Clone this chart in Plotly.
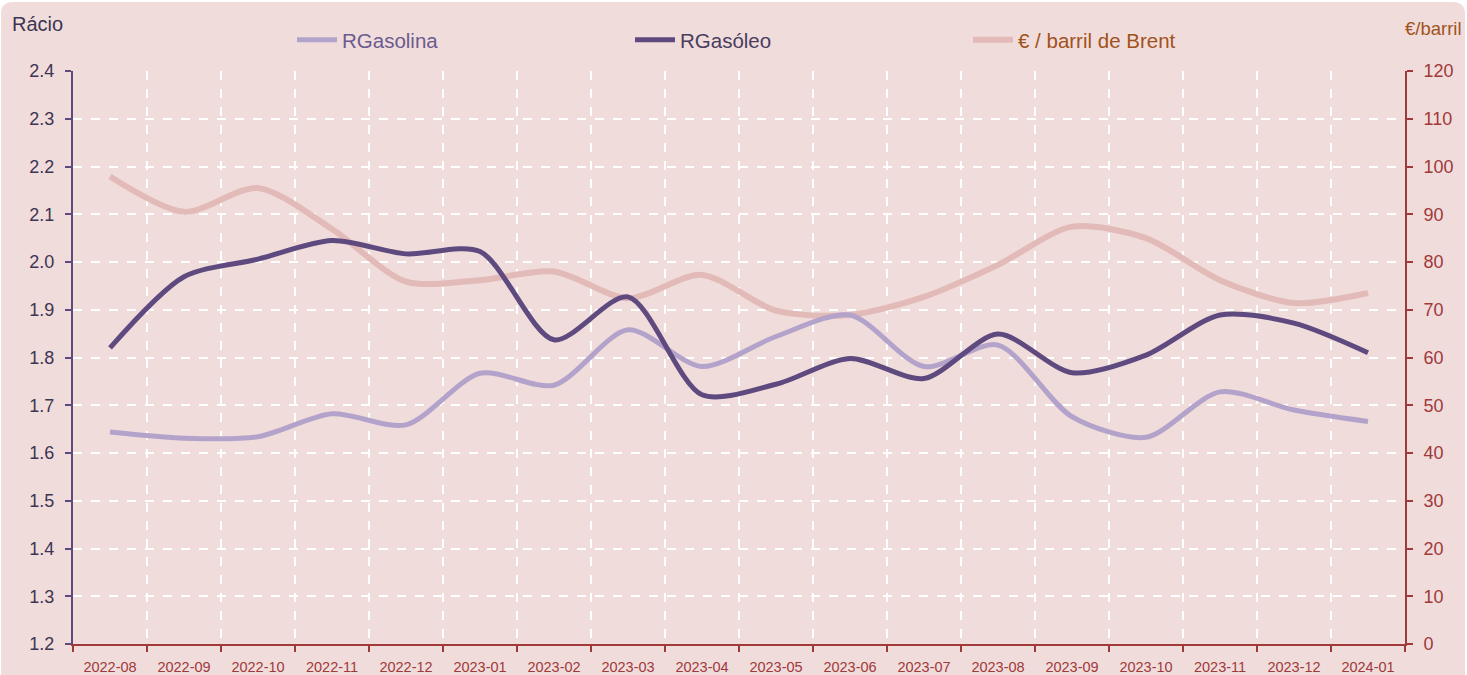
import plotly.graph_objects as go

months = ["2022-08", "2022-09", "2022-10", "2022-11", "2022-12", "2023-01",
          "2023-02", "2023-03", "2023-04", "2023-05", "2023-06", "2023-07",
          "2023-08", "2023-09", "2023-10", "2023-11", "2023-12", "2024-01"]
r_gasolina = [1.644, 1.631, 1.634, 1.682, 1.659, 1.767, 1.742, 1.858, 1.781,
              1.844, 1.889, 1.781, 1.826, 1.676, 1.633, 1.728, 1.690, 1.666]
r_gasoleo = [1.820, 1.969, 2.006, 2.045, 2.017, 2.022, 1.837, 1.927, 1.722,
             1.744, 1.798, 1.756, 1.849, 1.768, 1.805, 1.889, 1.872, 1.810]
brent = [97.9, 90.5, 95.5, 86.9, 75.9, 76.2, 78.0, 72.4, 77.3,
         69.8, 68.9, 72.7, 79.4, 87.4, 85.0, 76.2, 71.4, 73.5]

W, H = 1467, 675
ML, MR, MT, MB = 73, 62, 71, 31
PW, PH = W - ML - MR, H - MT - MB

def xp(px):
    return (px - ML) / PW

def yp(py):
    return (H - MB - py) / PH

BG = "#f1dcdc"
C_GASOLINA = "#b3a3ca"
C_GASOLEO = "#5e4a7e"
C_BRENT = "#e2bab7"
RED = "#a0393a"
BROWN = "#a0521a"
FONT = "Liberation Sans, Arial, sans-serif"

fig = go.Figure()
fig.add_trace(go.Scatter(
    x=months, y=brent, yaxis="y", mode="lines",
    line=dict(color=C_BRENT, width=6, shape="spline", smoothing=0.8),
    name=f"<span style='color:{BROWN}'>€ / barril de Brent</span>", legendrank=3))
fig.add_trace(go.Scatter(
    x=months, y=r_gasolina, yaxis="y2", mode="lines",
    line=dict(color=C_GASOLINA, width=5, shape="spline", smoothing=0.8),
    name="<span style='color:#6b5b8f'>RGasolina</span>", legendrank=1))
fig.add_trace(go.Scatter(
    x=months, y=r_gasoleo, yaxis="y2", mode="lines",
    line=dict(color=C_GASOLEO, width=5, shape="spline", smoothing=0.8),
    name="<span style='color:#4a3d5e'>RGasóleo</span>", legendrank=2))

# rounded background
x0, x1, y0, y1, r = xp(1), xp(1465), yp(2), yp(700), 12
rx, ry = r / PW, r / PH
path = (f"M {x0+rx},{y0} L {x1-rx},{y0} Q {x1},{y0} {x1},{y0-ry} "
        f"L {x1},{y1} L {x0},{y1} L {x0},{y0-ry} Q {x0},{y0} {x0+rx},{y0} Z")

fig.update_layout(
    width=W, height=H,
    margin=dict(l=ML, r=MR, t=MT, b=MB, autoexpand=False),
    paper_bgcolor="white", plot_bgcolor="rgba(0,0,0,0)",
    font=dict(family=FONT, size=18, color="#3d3552"),
    shapes=[dict(type="path", xref="paper", yref="paper", path=path,
                 fillcolor=BG, line=dict(width=0), layer="below")],
    showlegend=True,
    legend=dict(orientation="h", x=xp(292), xanchor="left", y=yp(40), yanchor="middle",
                entrywidth=283, entrywidthmode="pixels",
                font=dict(size=20.5, family=FONT), bgcolor="rgba(0,0,0,0)",
                itemwidth=40),
    xaxis=dict(type="category", range=[-0.5, 17.5], tickson="boundaries",
               automargin=False, ticklabelstandoff=9,
               ticks="outside", ticklen=6, tickwidth=2, tickcolor=RED,
               showline=True, linecolor=RED, linewidth=2,
               showgrid=True, gridcolor="white", griddash="dash", gridwidth=2,
               tickfont=dict(size=14.5, color=RED, family=FONT)),
    yaxis=dict(range=[0, 120], dtick=10, side="right", automargin=False,
               ticklabelstandoff=7,
               ticks="outside", ticklen=6, tickwidth=2, tickcolor=RED,
               showline=True, linecolor=RED, linewidth=2, zeroline=False,
               showgrid=True, gridcolor="white", griddash="dash", gridwidth=2,
               tickfont=dict(size=18, color=RED, family=FONT)),
    yaxis2=dict(range=[1.2, 2.4], dtick=0.1, tickformat=".1f", side="left",
                overlaying="y", anchor="x", automargin=False,
                ticklabelstandoff=7,
                ticks="outside", ticklen=6, tickwidth=2, tickcolor=C_GASOLEO,
                showline=True, linecolor=C_GASOLEO, linewidth=2, zeroline=False,
                showgrid=False,
                tickfont=dict(size=18, color="#3d3552", family=FONT)),
    annotations=[
        dict(text="Rácio", xref="paper", yref="paper", x=xp(10), y=yp(24),
             xanchor="left", yanchor="middle", showarrow=False,
             font=dict(size=20, color="#3d3552", family=FONT)),
        dict(text="€/barril", xref="paper", yref="paper", x=xp(1464), y=yp(28),
             xanchor="right", yanchor="middle", showarrow=False,
             font=dict(size=18.5, color=BROWN, family=FONT)),
    ],
)

fig.write_html("out.html", config={"displayModeBar": False},
               post_script="document.body.style.margin='0';")
